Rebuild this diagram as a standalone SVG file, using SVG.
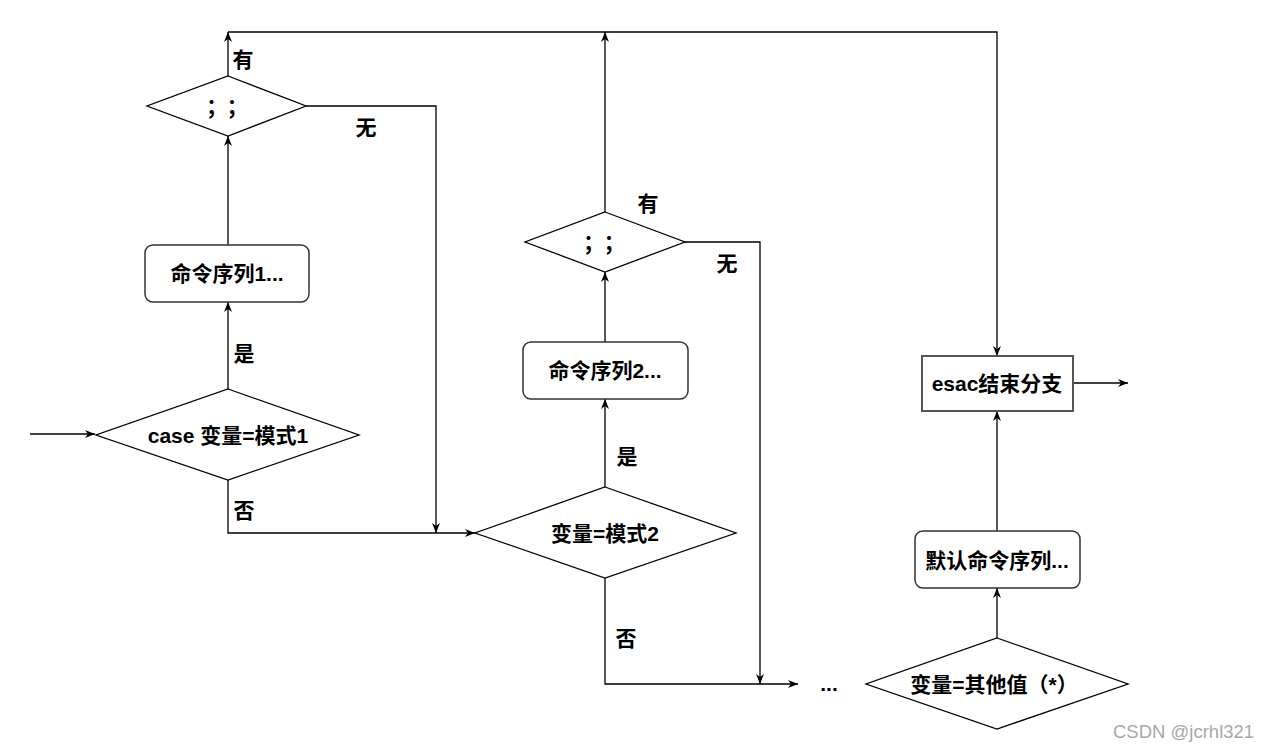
<svg xmlns="http://www.w3.org/2000/svg" width="1271" height="750" viewBox="0 0 1271 750">
<style>
.bg{fill:#fff}
.dia{fill:#fff;stroke:#000;stroke-width:1.3}
.rbox{fill:#fff;stroke:#333;stroke-width:1.5}
.sbox{fill:#fff;stroke:#555;stroke-width:2}
.edge{fill:none;stroke:#000;stroke-width:1.3}
.t{font-family:"Liberation Sans","Noto Sans CJK SC",sans-serif;font-weight:bold;font-size:21px;fill:#000;text-anchor:middle}
.semi{font-family:"Noto Sans CJK SC",sans-serif;font-weight:bold;font-size:21px;fill:#000;text-anchor:middle;letter-spacing:10px}
.lbl{font-family:"Liberation Sans","Noto Sans CJK SC",sans-serif;font-weight:bold;font-size:21px;fill:#000;text-anchor:middle}
.wm{font-family:"Liberation Sans",sans-serif;font-size:18.5px;fill:#a8a8a8}
</style>
<defs>
<marker id="ah" viewBox="0 0 10 8" refX="10" refY="4" markerWidth="10" markerHeight="8" orient="auto" markerUnits="userSpaceOnUse">
<path d="M0,0 L10,4 L0,8 L3,4 Z" fill="#000"/>
</marker>
</defs>
<rect class="bg" x="0" y="0" width="1271" height="750"/>

<g id="connectors">
<path class="edge" d="M30,434 L95,434" marker-end="url(#ah)"/>
<path class="edge" d="M228,389 L228,302" marker-end="url(#ah)"/>
<path class="edge" d="M228,245 L228,136" marker-end="url(#ah)"/>
<path class="edge" d="M228,76 L228,32" marker-end="url(#ah)"/>
<path class="edge" d="M605,212 L605,32" marker-end="url(#ah)"/>
<path class="edge" d="M228,32 L997,32 L997,356" marker-end="url(#ah)"/>
<path class="edge" d="M306,106 L436,106 L436,533" marker-end="url(#ah)"/>
<path class="edge" d="M228,480 L228,533 L475,533" marker-end="url(#ah)"/>
<path class="edge" d="M605,487 L605,399" marker-end="url(#ah)"/>
<path class="edge" d="M605,342 L605,272" marker-end="url(#ah)"/>
<path class="edge" d="M685,242 L760,242 L760,684" marker-end="url(#ah)"/>
<path class="edge" d="M605,578 L605,684 L798,684" marker-end="url(#ah)"/>
<path class="edge" d="M997,638 L997,588" marker-end="url(#ah)"/>
<path class="edge" d="M997,531 L997,411" marker-end="url(#ah)"/>
<path class="edge" d="M1073,383 L1128,383" marker-end="url(#ah)"/>
<text class="lbl" x="243" y="67">有</text>
<text class="lbl" x="366" y="135">无</text>
<text class="lbl" x="244" y="361">是</text>
<text class="lbl" x="244" y="518">否</text>
<text class="lbl" x="648" y="211">有</text>
<text class="lbl" x="727" y="271">无</text>
<text class="lbl" x="627" y="464">是</text>
<text class="lbl" x="626" y="646">否</text>
<text class="lbl" x="829" y="691">...</text>
</g>

<g id="semi1">
<polygon class="dia" points="228,76 306,106 228,136 147,106"/>
<text class="semi" x="232" y="114">；；</text>
</g>

<g id="cmd1">
<rect class="rbox" x="145" y="245" width="164" height="57" rx="8" ry="8"/>
<text class="t" x="227" y="281">命令序列1...</text>
</g>

<g id="case1">
<polygon class="dia" points="228,389 359,435 228,480 96,435"/>
<text class="t" x="228" y="443">case 变量=模式1</text>
</g>

<g id="semi2">
<polygon class="dia" points="605,212 685,242 605,272 525,242"/>
<text class="semi" x="609" y="250">；；</text>
</g>

<g id="cmd2">
<rect class="rbox" x="523" y="342" width="165" height="57" rx="8" ry="8"/>
<text class="t" x="605" y="378">命令序列2...</text>
</g>

<g id="case2">
<polygon class="dia" points="605,487 736,533 605,578 475,533"/>
<text class="t" x="605" y="541">变量=模式2</text>
</g>

<g id="esac">
<rect class="sbox" x="922" y="356" width="151" height="55"/>
<text class="t" x="997" y="391">esac结束分支</text>
</g>

<g id="defcmd">
<rect class="rbox" x="915" y="531" width="165" height="57" rx="8" ry="8"/>
<text class="t" x="997" y="568">默认命令序列...</text>
</g>

<g id="other">
<polygon class="dia" points="997,638 1128,684 997,729 866,684"/>
<text class="t" x="994" y="692">变量=其他值（*）</text>
</g>

<text class="wm" x="1113" y="738">CSDN @jcrhl321</text>
</svg>
